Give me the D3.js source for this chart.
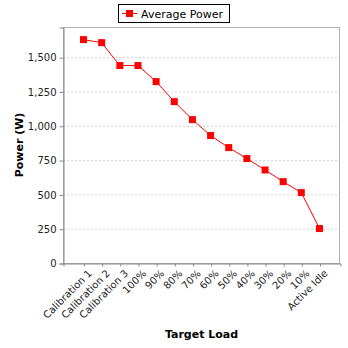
<!DOCTYPE html>
<html><head><meta charset="utf-8">
<script src="https://cdn.jsdelivr.net/npm/d3@7"></script>
<style>html,body{margin:0;padding:0;background:#fff;}</style>
</head><body><div id="chart"></div>
<script>
const categories = ["Calibration 1","Calibration 2","Calibration 3","100%","90%","80%","70%","60%","50%","40%","30%","20%","10%","Active Idle"];
const averagePower = [1628,1606,1439,1439,1322,1176,1045,929,841,761,678,593,513,251];
const yTicks = [0,250,500,750,1000,1250,1500];
const seriesName = "Average Power";
const xTitle = "Target Load";
const yTitle = "Power (W)";

const W = 348, H = 348;
const plot = {left: 63, right: 340, top: 27, bottom: 263};
const svg = d3.select("#chart").append("svg").attr("width", W).attr("height", H)
  .style("font-family", "'DejaVu Sans', sans-serif");

const x = d3.scalePoint().domain(categories).range([plot.left, plot.right]).padding(1.13);
const y = d3.scaleLinear().domain([0, 1720]).range([plot.bottom, plot.top]);

// gridlines
svg.append("g").selectAll("line").data(yTicks.filter(d => d > 0)).join("line")
  .attr("x1", plot.left).attr("x2", plot.right)
  .attr("y1", d => y(d) + 0.5).attr("y2", d => y(d) + 0.5)
  .attr("stroke", "#d4d4d4").attr("stroke-dasharray", "2,2").attr("stroke-width", 1);

// plot outline
svg.append("rect").attr("x", plot.left + 0.5).attr("y", plot.top + 0.5)
  .attr("width", plot.right - plot.left - 1).attr("height", plot.bottom - plot.top)
  .attr("fill", "none").attr("stroke", "#b0b0b0");

// y axis
const yAxis = d3.axisLeft(y).tickValues(yTicks).tickSize(4).tickPadding(3)
  .tickFormat(d3.format(","));
const gy = svg.append("g").attr("transform", `translate(${plot.left + 0.5},0.5)`).call(yAxis);
gy.select(".domain").attr("stroke", "#888");
gy.selectAll(".tick line").attr("stroke", "#888");
gy.selectAll("text").attr("font-size", 10).attr("fill", "#222").attr("font-family", "'DejaVu Sans', sans-serif");

// x axis
const xAxis = d3.axisBottom(x).tickSize(3).tickFormat("");
const gx = svg.append("g").attr("transform", `translate(0.5,${plot.bottom + 0.5})`).call(xAxis);
gx.select(".domain").attr("stroke", "#888");
gx.selectAll(".tick line").attr("stroke", "#888");

svg.append("g").selectAll("text").data(categories).join("text")
  .attr("transform", d => `translate(${x(d) + 4},${plot.bottom + 6}) rotate(-45)`)
  .attr("text-anchor", "end").attr("dy", "0.7em")
  .attr("font-size", 10).attr("fill", "#222")
  .text(d => d);

// line
const line = d3.line().x((d, i) => x(categories[i])).y(d => y(d));
svg.append("path").datum(averagePower).attr("d", line)
  .attr("fill", "none").attr("stroke", "#ff0000").attr("stroke-width", 1);
const ms = 7;
svg.append("g").selectAll("rect").data(averagePower).join("rect")
  .attr("x", (d, i) => x(categories[i]) - ms / 2)
  .attr("y", d => y(d) - ms / 2)
  .attr("width", ms).attr("height", ms).attr("fill", "#ff0000");

// axis titles
svg.append("text").attr("x", (plot.left + plot.right) / 2).attr("y", 338)
  .attr("text-anchor", "middle").attr("font-weight", "bold").attr("font-size", 11)
  .attr("fill", "#000").text(xTitle);
svg.append("text").attr("transform", `translate(23,${(plot.top + plot.bottom) / 2}) rotate(-90)`)
  .attr("text-anchor", "middle").attr("font-weight", "bold").attr("font-size", 11)
  .attr("fill", "#000").text(yTitle);

// legend
const lg = svg.append("g");
lg.append("rect").attr("x", 118.5).attr("y", 4.5).attr("width", 111).attr("height", 18)
  .attr("fill", "#fff").attr("stroke", "#000");
lg.append("line").attr("x1", 122).attr("x2", 137).attr("y1", 13.5).attr("y2", 13.5)
  .attr("stroke", "#ff0000");
lg.append("rect").attr("x", 129.5 - ms / 2).attr("y", 13.5 - ms / 2).attr("width", ms).attr("height", ms)
  .attr("fill", "#ff0000");
lg.append("text").attr("x", 141).attr("y", 17.5).attr("font-size", 11).attr("fill", "#000")
  .text(seriesName);
</script>
</body></html>
